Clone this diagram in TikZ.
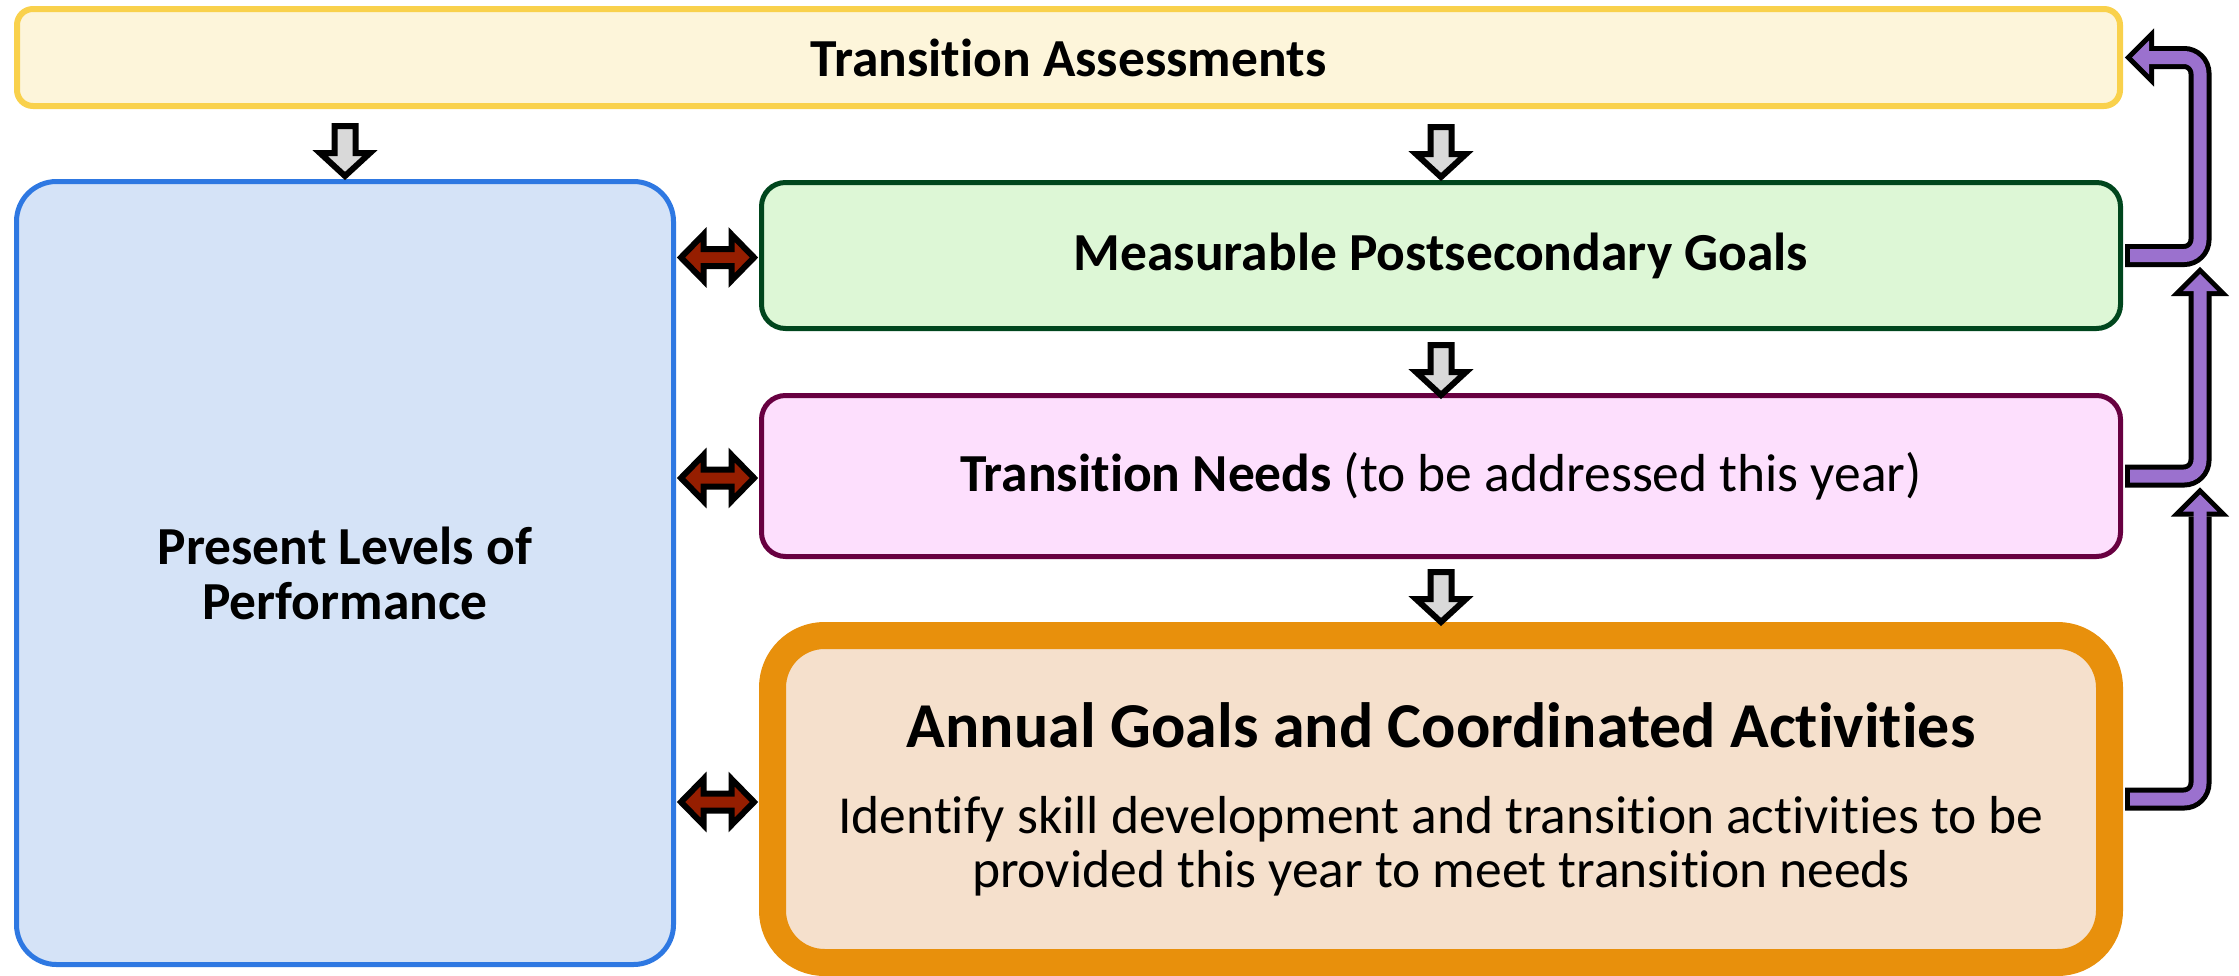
\documentclass[tikz,border=0pt]{standalone}
\usepackage{fontspec}
\setmainfont{Carlito}[Ligatures=NoCommon]
\usetikzlibrary{calc}
\definecolor{assessline}{HTML}{F9D14C}
\definecolor{assessfill}{HTML}{FDF5DA}
\definecolor{levelline}{HTML}{2E78E2}
\definecolor{levelfill}{HTML}{D5E3F7}
\definecolor{goalline}{HTML}{00461D}
\definecolor{goalfill}{HTML}{DDF7D6}
\definecolor{needline}{HTML}{680041}
\definecolor{needfill}{HTML}{FDDFFD}
\definecolor{annualline}{HTML}{E8900C}
\definecolor{annualfill}{HTML}{F5E0CC}
\definecolor{downfill}{HTML}{D9D9D9}
\definecolor{linkfill}{HTML}{961E00}
\definecolor{feedfill}{HTML}{9B71CE}
\tikzset{
    box/.style={draw, inner sep=0pt, line width=5pt, rounded corners=24pt, align=center,
        font=\fontsize{53.5}{55}\selectfont\bfseries},
    down arrow/.pic={\draw[line width=6pt, line join=miter, fill=downfill]
        (0,0) -- (-25,-23) -- (-10.5,-23) -- (-10.5,-50) -- (10.5,-50) -- (10.5,-23) -- (25,-23) -- cycle;},
    link arrow/.pic={\draw[line width=6pt, line join=miter, fill=linkfill]
        (-36.5,0) -- (-14,-23) -- (-14,-8.5) -- (14,-8.5) -- (14,-23) -- (36.5,0)
        -- (14,23) -- (14,8.5) -- (-14,8.5) -- (-14,23) -- cycle;},
    feedback tip/.pic={\draw[line width=10pt, line join=miter] (0,7) -- (17,24) -- (-17,24) -- cycle;
        \fill[feedfill] (0,7) -- (17,24) -- (-17,24) -- cycle;},
    feedback outline/.style={line width=23pt, rounded corners=16pt, black},
    feedback core/.style={line width=13pt, rounded corners=16pt, feedfill, shorten <=5pt},
}
\begin{document}
\begin{tikzpicture}[x=1pt,y=-1pt]
    \useasboundingbox (0,0) rectangle (2239,975);
    \node[box, draw=assessline, fill=assessfill, line width=6pt, rounded corners=16pt,
        minimum width=2103pt, minimum height=97pt] (assess) at (1068.5,57.5) {Transition Assessments};
    \node[box, draw=levelline, fill=levelfill, rounded corners=40pt,
        minimum width=657pt, minimum height=783pt] (levels) at (345,573) {Present Levels of\\Performance};
    \node[box, draw=goalline, fill=goalfill,
        minimum width=1359pt, minimum height=146pt] (goals) at (1441,255.5) {Measurable Postsecondary Goals};
    \node[box, draw=needline, fill=needfill,
        minimum width=1359pt, minimum height=161pt] (needs) at (1441,476) {Transition Needs \mdseries(to be addressed this year)};
    \node[box, draw=annualline, fill=annualfill, line width=27pt, rounded corners=52pt,
        minimum width=1337pt, minimum height=327pt] (annual) at (1441,799) {};
    \node[anchor=base, font=\fontsize{64}{70}\selectfont\bfseries] (annualtitle)
        at ($(annual.center)+(0,-52)$) {Annual Goals and Coordinated Activities};
    \node[anchor=base, font=\fontsize{53.5}{54}\selectfont] (annualfirst)
        at ($(annual.center)+(0,34)$) {Identify skill development and transition activities to be};
    \node[anchor=base, font=\fontsize{53.5}{54}\selectfont] (annualsecond)
        at ($(annual.center)+(0,88)$) {provided this year to meet transition needs};

    \pic at ($(levels.north)+(0,-3)$) {down arrow};
    \pic at ($(goals.north)+(0,-3)$) {down arrow};
    \pic at ($(needs.north)+(0,2)$) {down arrow};
    \pic at (annual.north) {down arrow};

    \pic at ($(levels.east |- goals.west)!.5!(goals.west)+(0,2)$) {link arrow};
    \pic at ($(levels.east |- needs.west)!.5!(needs.west)+(0,2)$) {link arrow};
    \pic at ($(levels.east |- annual.west)!.5!(annual.west)+(0,3)$) {link arrow};

    \coordinate (rail) at ($(assess.east)+(77,0)$);
    \draw[feedback outline] ($(goals.east)+(2,0)$) -- (rail |- goals.east) -- (rail |- assess.east) -- ($(assess.east)+(28,0)$);
    \pic[rotate=90] at ($(assess.east)+(2,0)$) {feedback tip};
    \draw[feedback core] ($(goals.east)+(2,0)$) -- (rail |- goals.east) -- (rail |- assess.east) -- ($(assess.east)+(18,0)$);

    \draw[feedback outline] ($(needs.east)+(2,0)$) -- (rail |- needs.east) -- ($(rail |- goals.east)+(0,40.5)$);
    \pic at ($(rail |- goals.east)+(0,11.5)$) {feedback tip};
    \draw[feedback core] ($(needs.east)+(2,0)$) -- (rail |- needs.east) -- ($(rail |- goals.east)+(0,30)$);

    \draw[feedback outline] ($(annual.east)+(2,0)$) -- (rail |- annual.east) -- ($(rail |- needs.east)+(0,40.5)$);
    \pic at ($(rail |- needs.east)+(0,11.5)$) {feedback tip};
    \draw[feedback core] ($(annual.east)+(2,0)$) -- (rail |- annual.east) -- ($(rail |- needs.east)+(0,30)$);
\end{tikzpicture}
\end{document}
